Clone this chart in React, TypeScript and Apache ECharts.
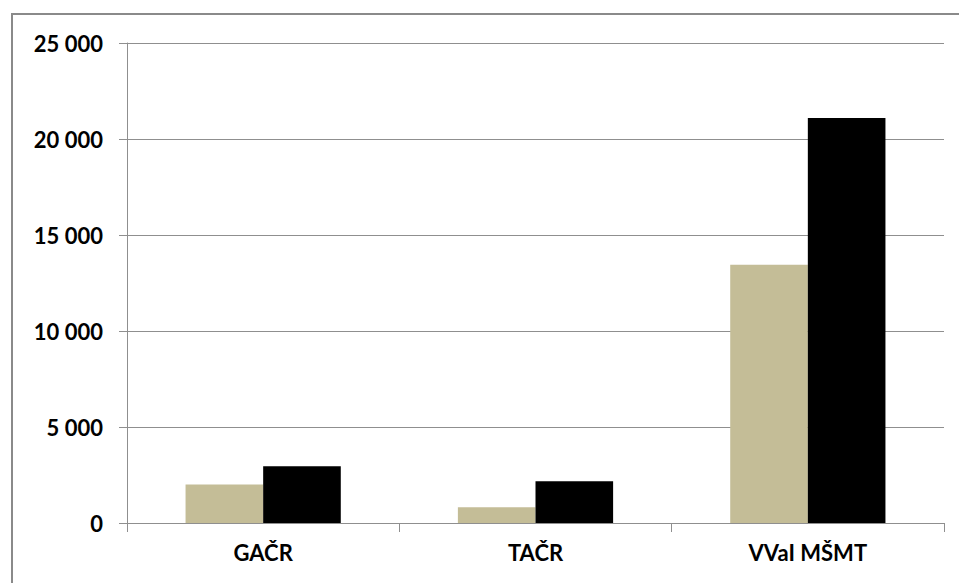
import React, { useEffect, useRef } from "react";
import * as echarts from "echarts";

const categories = ["GAČR", "TAČR", "VVaI MŠMT"];
const seriesTan = [2000, 820, 13450];
const seriesBlack = [2950, 2170, 21100];
const yTicks = [0, 5000, 10000, 15000, 20000, 25000];

const fmt = (v: number) => {
  const s = String(Math.round(v));
  return s.replace(/\B(?=(\d{3})+(?!\d))/g, " ");
};

export default function App() {
  const ref = useRef<HTMLDivElement>(null);
  useEffect(() => {
    if (!ref.current) return;
    const chart = echarts.init(ref.current, undefined, { renderer: "svg" });
    const labelFont = {
      fontFamily: "Lato",
      fontWeight: "bold" as const,
      fontSize: 22,
      color: "#000",
    };
    chart.setOption({
      animation: false,
      backgroundColor: "#fff",
      grid: { left: 127, right: 15, top: 43, bottom: 60, containLabel: false },
      graphic: [
        {
          type: "rect",
          shape: { x: 12, y: 14, width: 2000, height: 2000 },
          style: { fill: "none", stroke: "#8a8a8a", lineWidth: 2 },
          silent: true,
        },
      ],
      xAxis: {
        type: "category",
        data: categories,
        axisLine: { show: true, lineStyle: { color: "#8f8f8f", width: 1 } },
        axisTick: { show: true, length: 9, lineStyle: { color: "#8f8f8f" } },
        axisLabel: { ...labelFont, margin: 18 },
        splitLine: { show: false },
      },
      yAxis: {
        type: "value",
        min: yTicks[0],
        max: yTicks[yTicks.length - 1],
        interval: 5000,
        axisLine: { show: true, lineStyle: { color: "#8f8f8f", width: 1 } },
        axisTick: { show: true, length: 8, lineStyle: { color: "#8f8f8f" } },
        axisLabel: { ...labelFont, margin: 24, formatter: (v: number) => fmt(v) },
        splitLine: { show: true, lineStyle: { color: "#8f8f8f", width: 1 } },
      },
      series: [
        {
          type: "bar",
          data: seriesTan,
          itemStyle: { color: "#C4BD97" },
          barGap: "0%",
          barCategoryGap: "43%",
        },
        {
          type: "bar",
          data: seriesBlack,
          itemStyle: { color: "#000000" },
          barGap: "0%",
          barCategoryGap: "43%",
        },
      ],
    });
    return () => chart.dispose();
  }, []);
  return (
    <div
      ref={ref}
      style={{ position: "fixed", left: 0, top: 0, width: 959, height: 583 }}
    />
  );
}
